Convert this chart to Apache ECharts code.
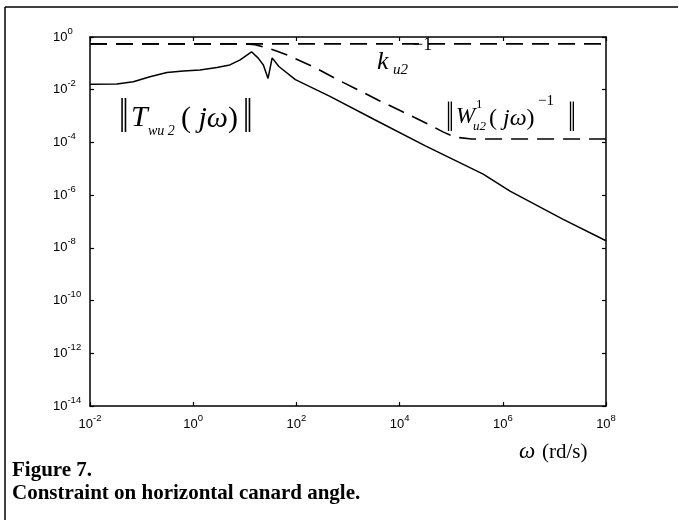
<!DOCTYPE html>
<html><head><meta charset="utf-8">
<script src="https://cdn.jsdelivr.net/npm/echarts@6/dist/echarts.min.js"></script>
<style>html,body{margin:0;padding:0;background:#fff}#c{width:679px;height:520px}</style>
</head><body><div id="c"></div>
<script>
// Tick positions (rad/s and magnitude)
const xTicks = [1e-2, 1, 1e2, 1e4, 1e6, 1e8];
const yTicks = [1e-14, 1e-12, 1e-10, 1e-8, 1e-6, 1e-4, 1e-2, 1];

// ||T_wu2(jw)|| (solid)
const omegaT = [0.01, 0.0331, 0.0692, 0.145, 0.309, 0.646, 1.35, 2.88, 5.13, 8.13, 13.5, 18.2, 22.9, 28.2, 33.9, 45.7, 95.5, 447, 3160, 31600, 417000, 1380000, 14800000, 1e8];
const magT   = [0.0162, 0.0166, 0.0200, 0.0309, 0.0447, 0.0513, 0.0562, 0.0692, 0.0871, 0.135, 0.275, 0.158, 0.0871, 0.0269, 0.162, 0.0759, 0.0240, 0.00562, 7.59e-4, 7.41e-5, 6.31e-6, 1.41e-6, 1.20e-7, 1.86e-8];

// ||W_u2^1(jw)^-1|| (dashed)
const omegaW = [0.01, 10, 15.8, 23.4, 39.8, 69.2, 209, 562, 1380, 3800, 10700, 38900, 69200, 117000, 251000, 1e8];
const magW   = [0.55, 0.55, 0.513, 0.417, 0.302, 0.200, 0.0759, 0.0269, 0.0112, 0.00407, 0.00155, 4.57e-4, 2.51e-4, 1.58e-4, 1.35e-4, 1.35e-4];

// k_u2^-1 (dashed, constant)
const omegaK = [0.01, 1e8];
const magK   = [0.55, 0.55];

const zip = (a, b) => a.map((v, i) => [v, b[i]]);
const SERIF = '"Liberation Serif", "Times New Roman", serif';
const SANS = '"Liberation Sans", Arial, sans-serif';

const fmt = v => '{b|10}{s|' + Math.round(Math.log10(v)) + '}';
const rich = {
  b: { fontSize: 13, fontFamily: SANS, color: '#000' },
  s: { fontSize: 9.5, fontFamily: SANS, color: '#000', padding: [0, 0, 12, 0] }
};
const axisLineStyle = { color: '#000', width: 1.5 };

function txt(x, y, text, size, opts) {
  opts = opts || {};
  const el = {
    type: 'text', x: x, y: y, z: 10,
    style: {
      text: text, fill: '#000',
      fontSize: size, fontFamily: opts.family || SERIF,
      fontStyle: opts.italic ? 'italic' : 'normal',
      fontWeight: opts.bold ? 'bold' : 'normal',
      align: 'left', verticalAlign: 'middle'
    }
  };
  if (opts.scaleY) el.scaleY = opts.scaleY;
  if (opts.rich) el.style.rich = opts.rich;
  return el;
}
const parenRich = size => ({
  n: { fontSize: size, fontFamily: SERIF, color: '#000' },
  i: { fontSize: size, fontFamily: SERIF, fontStyle: 'italic', color: '#000' }
});

const chart = echarts.init(document.getElementById('c'));
chart.setOption({
  animation: false,
  backgroundColor: '#fff',
  grid: { left: 90, right: 73, top: 37, bottom: 114 },
  xAxis: [{
    type: 'log', logBase: 10, min: 1e-2, max: 1e8, position: 'bottom',
    axisLine: { show: true, lineStyle: axisLineStyle },
    axisTick: { show: true, inside: true, length: 4, customValues: xTicks, lineStyle: { color: '#000', width: 1.2 } },
    axisLabel: { show: true, customValues: xTicks, formatter: fmt, rich: rich, margin: 7 },
    splitLine: { show: false }, minorTick: { show: false }
  }, {
    type: 'log', logBase: 10, min: 1e-2, max: 1e8, position: 'top',
    axisLine: { show: true, lineStyle: axisLineStyle },
    axisTick: { show: true, inside: true, length: 4, customValues: xTicks, lineStyle: { color: '#000', width: 1.2 } },
    axisLabel: { show: false }, splitLine: { show: false }
  }],
  yAxis: [{
    type: 'log', logBase: 10, min: 1e-14, max: 1, position: 'left',
    axisLine: { show: true, lineStyle: axisLineStyle },
    axisTick: { show: true, inside: true, length: 4, customValues: yTicks, lineStyle: { color: '#000', width: 1.2 } },
    axisLabel: { show: true, customValues: yTicks, formatter: fmt, rich: rich, margin: 37, align: 'left' },
    splitLine: { show: false }
  }, {
    type: 'log', logBase: 10, min: 1e-14, max: 1, position: 'right',
    axisLine: { show: true, lineStyle: axisLineStyle },
    axisTick: { show: true, inside: true, length: 4, customValues: yTicks, lineStyle: { color: '#000', width: 1.2 } },
    axisLabel: { show: false }, splitLine: { show: false }
  }],
  series: [{
    type: 'line', xAxisIndex: 0, yAxisIndex: 0, data: zip(omegaT, magT),
    showSymbol: false, symbol: 'none', smooth: false,
    lineStyle: { color: '#000', width: 1.5 }
  }, {
    type: 'line', xAxisIndex: 0, yAxisIndex: 0, data: zip(omegaW, magW),
    showSymbol: false, symbol: 'none',
    lineStyle: { color: '#000', width: 1.6, type: [17, 9] }
  }, {
    type: 'line', xAxisIndex: 0, yAxisIndex: 0, data: zip(omegaK, magK),
    showSymbol: false, symbol: 'none',
    lineStyle: { color: '#000', width: 1.6, type: [17, 9] }
  }],
  graphic: [
    { type: 'line', shape: { x1: 5, y1: 7, x2: 678, y2: 7 }, style: { stroke: '#000', lineWidth: 1.5 } },
    { type: 'line', shape: { x1: 5, y1: 7, x2: 5, y2: 520 }, style: { stroke: '#000', lineWidth: 1.5 } },
    // ||T_wu2(jw)||
    txt(119, 119, '‖', 34, { scaleY: 1.45 }),
    txt(131, 118, 'T', 30, { italic: true }),
    txt(148, 131, 'wu 2', 14, { italic: true }),
    txt(181, 119, '{n|(}{i| jω}{n|)}', 30, { rich: parenRich(30) }),
    txt(243, 119, '‖', 34, { scaleY: 1.45 }),
    // k_u2^-1
    txt(377, 62, 'k', 26, { italic: true }),
    txt(393, 70, 'u2', 15, { italic: true }),
    txt(413, 45, '−1', 18),
    // ||W_u2^1(jw)^-1||
    txt(446, 120, '‖', 28, { scaleY: 1.5 }),
    txt(456, 117, 'W', 23, { italic: true }),
    txt(476, 105, '1', 13),
    txt(473, 127, 'u2', 13, { italic: true }),
    txt(489, 119, '{n|(}{i| jω}{n|)}', 24, { rich: parenRich(24) }),
    txt(538, 101, '−1', 15),
    txt(568, 120, '‖', 28, { scaleY: 1.5 }),
    // axis title
    txt(519, 452, 'ω', 23, { italic: true }),
    txt(542, 452, '(rd/s)', 21),
    // caption
    txt(12, 471, 'Figure 7.', 21, { bold: true }),
    txt(12, 494, 'Constraint on horizontal canard angle.', 21, { bold: true })
  ]
});
</script>
</body></html>
